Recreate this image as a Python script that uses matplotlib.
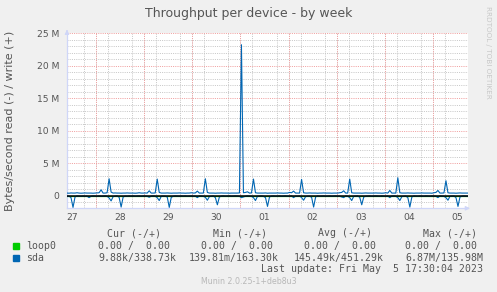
import matplotlib
matplotlib.use('Agg')
import matplotlib.pyplot as plt
import matplotlib.dates as mdates
from matplotlib.patches import Rectangle
from matplotlib.ticker import MultipleLocator, FuncFormatter
from datetime import datetime, timedelta

# --- data (MB/s, hourly averages starting 2023-04-27 09:30) ---
start = datetime(2023, 4, 27, 9, 30)
end = datetime(2023, 5, 5, 17, 30)

sda_write = [
    0.40, 0.38, 0.42, 0.40, 0.40, 0.45, 0.40, 0.38, 0.40, 0.42, 0.40, 0.40, 0.40, 0.38, 0.40, 0.42, 0.45, 0.90, 0.40, 0.40, 0.45, 2.60, 0.55, 0.40,
    0.42, 0.40, 0.40, 0.38, 0.40, 0.40, 0.42, 0.40, 0.40, 0.40, 0.38, 0.40, 0.45, 0.40, 0.40, 0.42, 0.40, 0.75, 0.40, 0.40, 0.42, 2.55, 0.50, 0.40,
    0.40, 0.40, 0.42, 0.40, 0.38, 0.40, 0.40, 0.40, 0.42, 0.40, 0.40, 0.38, 0.40, 0.40, 0.45, 0.40, 0.42, 0.70, 0.40, 0.40, 0.40, 2.60, 0.50, 0.40,
    0.40, 0.40, 0.38, 0.40, 0.40, 0.42, 0.40, 0.40, 0.40, 0.38, 0.40, 0.40, 0.40, 0.40, 0.42, 23.2, 0.45, 0.50, 0.60, 0.40, 0.42, 2.55, 0.45, 0.40,
    0.40, 0.40, 0.40, 0.42, 0.38, 0.40, 0.40, 0.40, 0.40, 0.42, 0.40, 0.40, 0.38, 0.40, 0.40, 0.50, 0.45, 0.70, 0.40, 0.40, 0.40, 2.50, 0.45, 0.40,
    0.40, 0.42, 0.40, 0.40, 0.40, 0.38, 0.40, 0.40, 0.42, 0.40, 0.40, 0.40, 0.38, 0.40, 0.40, 0.40, 0.45, 0.50, 0.75, 0.40, 0.40, 2.55, 0.45, 0.40,
    0.40, 0.40, 0.40, 0.38, 0.40, 0.42, 0.40, 0.40, 0.40, 0.40, 0.42, 0.40, 0.40, 0.38, 0.40, 0.45, 0.40, 0.80, 0.40, 0.40, 0.40, 2.75, 0.45, 0.40,
    0.40, 0.40, 0.42, 0.40, 0.40, 0.38, 0.40, 0.40, 0.40, 0.42, 0.40, 0.40, 0.40, 0.40, 0.38, 0.45, 0.50, 0.80, 0.40, 0.40, 0.42, 2.30, 0.45, 0.40,
    0.40, 0.40, 0.38, 0.40, 0.42, 0.40, 0.40, 0.40, 0.40,
]
sda_read = [
    -0.10, -0.08, -0.30, -1.80, -0.20, -0.05, -0.08, -0.10, -0.05, -0.10, -0.08, -0.30, -0.10, -0.05, -0.08, -0.10, -0.05, -0.10, -0.08, -0.05, -0.10, -0.35, -0.80, -0.15,
    -0.08, -0.05, -0.25, -1.75, -0.20, -0.08, -0.10, -0.05, -0.08, -0.05, -0.10, -0.08, -0.05, -0.10, -0.05, -0.08, -0.10, -0.25, -0.08, -0.05, -0.10, -0.30, -0.75, -0.10,
    -0.08, -0.10, -0.20, -1.80, -0.25, -0.10, -0.05, -0.08, -0.10, -0.05, -0.08, -0.05, -0.10, -0.08, -0.05, -0.10, -0.08, -0.30, -0.05, -0.08, -0.10, -0.25, -0.70, -0.15,
    -0.10, -0.05, -0.30, -1.40, -0.20, -0.08, -0.05, -0.10, -0.08, -0.05, -0.10, -0.08, -0.05, -0.08, -0.10, -0.30, -0.20, -0.10, -0.05, -0.08, -0.10, -0.30, -0.75, -0.10,
    -0.08, -0.05, -0.10, -0.30, -1.65, -0.20, -0.08, -0.05, -0.10, -0.08, -0.05, -0.10, -0.08, -0.05, -0.10, -0.08, -0.05, -0.30, -0.08, -0.10, -0.05, -0.30, -0.70, -0.15,
    -0.10, -0.08, -0.25, -1.75, -0.20, -0.05, -0.10, -0.08, -0.05, -0.10, -0.08, -0.05, -0.10, -0.08, -0.05, -0.10, -0.08, -0.20, -0.30, -0.05, -0.10, -0.30, -0.75, -0.10,
    -0.08, -0.05, -0.25, -1.40, -0.20, -0.10, -0.08, -0.05, -0.10, -0.08, -0.05, -0.08, -0.10, -0.05, -0.08, -0.10, -0.05, -0.30, -0.08, -0.05, -0.10, -0.30, -0.75, -0.15,
    -0.10, -0.08, -0.30, -1.75, -0.20, -0.05, -0.08, -0.10, -0.05, -0.08, -0.10, -0.05, -0.08, -0.10, -0.05, -0.08, -0.10, -0.30, -0.05, -0.08, -0.10, -0.30, -0.70, -0.10,
    -0.08, -0.05, -0.30, -1.65, -0.20, -0.08, -0.05, -0.10, -0.08,
]
loop0_write = [0.0] * len(sda_write)
loop0_read = [0.0] * len(sda_read)
times = [start + timedelta(hours=h) for h in range(len(sda_write))]

day_labels = ['27', '28', '29', '30', '01', '02', '03', '04', '05']
label_times = [datetime(2023, 4, 27, 12) + timedelta(days=i) for i in range(len(day_labels))]
midnights = [datetime(2023, 4, 28) + timedelta(days=i) for i in range(8)]

legend_names = ['loop0', 'sda']
legend_colors = ['#00CC00', '#0066B3']
legend_cur = ['0.00 /  0.00', '9.88k/338.73k']
legend_min = ['0.00 /  0.00', '139.81m/163.30k']
legend_avg = ['0.00 /  0.00', '145.49k/451.29k']
legend_max = ['0.00 /  0.00', '6.87M/135.98M']

# --- figure ---
W, H = 497, 292
fig = plt.figure(figsize=(W / 100, H / 100), dpi=100, facecolor='#F0F0F0')
ax = fig.add_axes([67 / W, (H - 208.3) / H, 401 / W, 175.3 / H])
ax.set_facecolor('white')

def ftext(x, y, s, **kw):
    fig.text(x / W, 1 - y / H, s, **kw)

grey = '#C8C8C8'
red = '#F0A0A0'
dots = (0, (1, 1.2))

ax.plot(times, loop0_write, color=legend_colors[0], lw=0.8, zorder=3)
ax.plot(times, loop0_read, color=legend_colors[0], lw=0.8, zorder=3)
ax.plot(times, sda_read, color=legend_colors[1], lw=0.8, zorder=3)
ax.plot(times, sda_write, color=legend_colors[1], lw=0.8, zorder=3)
ax.axhline(0, color='black', lw=1.1, zorder=4)

ax.set_xlim(start, end)
ax.set_ylim(-1.94, 25)

# y grid
ax.yaxis.set_major_locator(MultipleLocator(5))
ax.yaxis.set_minor_locator(MultipleLocator(1))
ax.yaxis.set_major_formatter(FuncFormatter(lambda v, p: '0' if v == 0 else f'{int(v)} M'))
ax.grid(which='minor', axis='y', color=grey, ls=dots, lw=0.72)
ax.grid(which='major', axis='y', color=red, ls=dots, lw=0.72)

# x grid: 6h minor, red at midnight, labels at noon
ax.set_xticks(label_times, labels=day_labels)
ax.xaxis.set_minor_locator(mdates.HourLocator(byhour=[0, 6, 12, 18]))
ax.grid(which='minor', axis='x', color=grey, ls=dots, lw=0.72)
for m in midnights:
    ax.axvline(m, color=red, ls=dots, lw=0.72, zorder=1)
ax.set_axisbelow(True)

ax.tick_params(which='both', length=0, labelsize=6.6, labelcolor='#555555')
ax.tick_params(axis='y', pad=5.5)
ax.tick_params(axis='x', pad=3.3)

for s in ['top', 'right']:
    ax.spines[s].set_visible(False)
for s in ['left', 'bottom']:
    ax.spines[s].set_color('#CFD6F8')
    ax.spines[s].set_linewidth(0.9)

# axis arrows
ax.annotate('', xy=(0, 1.035), xytext=(0, 0.99), xycoords='axes fraction',
            arrowprops=dict(arrowstyle='-|>', color='#CFD6F8', lw=0.9, mutation_scale=6))
ax.annotate('', xy=(1.012, 0), xytext=(0.99, 0), xycoords='axes fraction',
            arrowprops=dict(arrowstyle='-|>', color='#CFD6F8', lw=0.9, mutation_scale=6))

# texts
ftext(248.5, 13.3, 'Throughput per device - by week', ha='center', va='center',
      fontsize=9, color='#555555')
ftext(10.5, 121, 'Bytes/second read (-) / write (+)', ha='center', va='center',
      rotation=90, fontsize=8, color='#555555')
ftext(488, 52, 'RRDTOOL / TOBI OETIKER', ha='center', va='center', rotation=270,
      fontsize=5.2, color='#C8C8C8')

mono = dict(family='DejaVu Sans Mono', fontsize=7.1, color='#555555', va='center')
ftext(107.3, 233.3, 'Cur (-/+)', ha='left', **mono)
ftext(213.3, 233.3, 'Min (-/+)', ha='left', **mono)
ftext(318.3, 233.3, 'Avg (-/+)', ha='left', **mono)
ftext(423.3, 233.3, 'Max (-/+)', ha='left', **mono)

rows_y = [245.7, 257.7]
for i, name in enumerate(legend_names):
    y = rows_y[i]
    fig.patches.append(Rectangle((13 / W, 1 - (y + 3.3) / H), 6 / W, 6 / H,
                                 transform=fig.transFigure, color=legend_colors[i]))
    ftext(26, y, name, ha='left', **mono)
    ftext(176 if i else 170, y, legend_cur[i], ha='right', **mono)
    ftext(278.7 if i else 272.7, y, legend_min[i], ha='right', **mono)
    ftext(383.7 if i else 376, y, legend_avg[i], ha='right', **mono)
    ftext(483.3 if i else 477, y, legend_max[i], ha='right', **mono)

ftext(483.3, 269.3, 'Last update: Fri May  5 17:30:04 2023', ha='right', **mono)
ftext(248.5, 281, 'Munin 2.0.25-1+deb8u3', ha='center', va='center',
      fontsize=5.7, color='#B8B8B8')

fig.savefig('out.png', dpi=100, facecolor=fig.get_facecolor())
